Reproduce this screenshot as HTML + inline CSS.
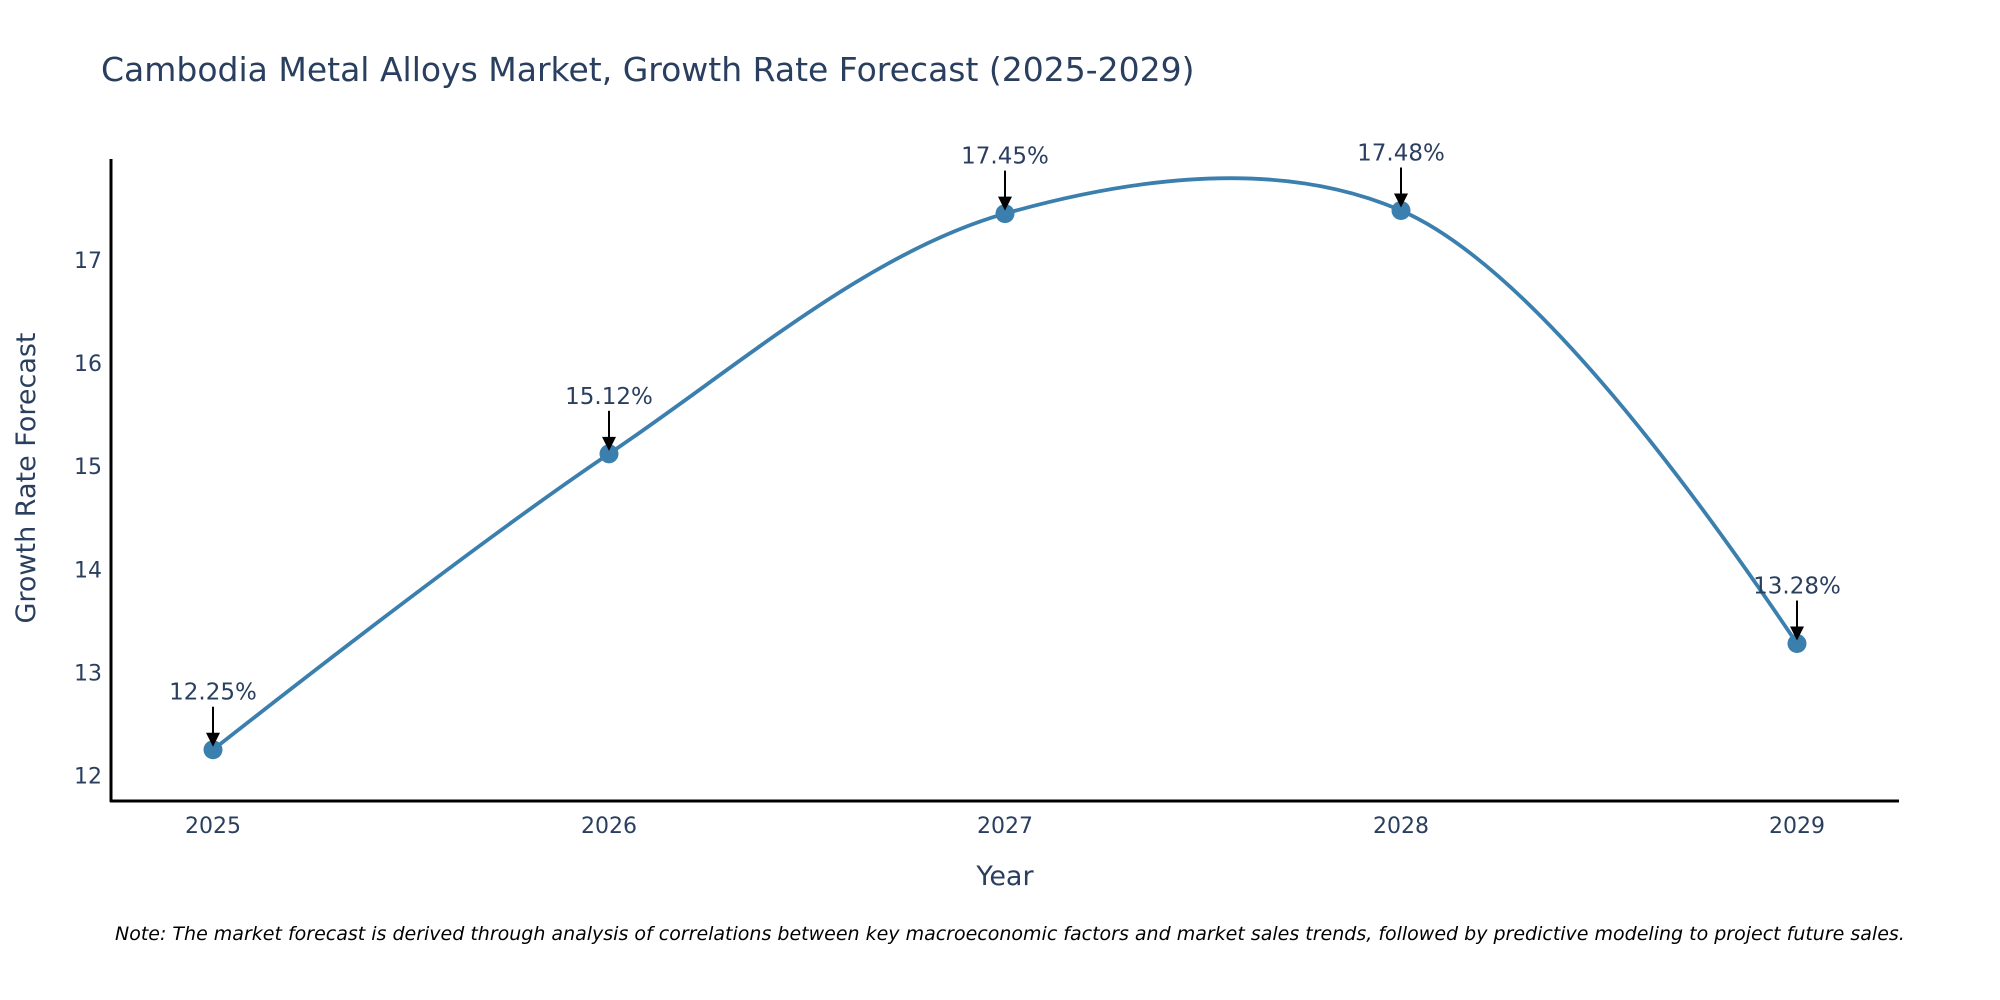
<!DOCTYPE html>
<html><head><meta charset="utf-8"><style>
html,body{margin:0;padding:0;background:#fff;width:2000px;height:1000px;overflow:hidden}
svg text{font-family:"DejaVu Sans","Liberation Sans",sans-serif}
</style></head><body>
<svg id="chart" width="2000" height="1000" viewBox="0 0 2000 1000" xmlns="http://www.w3.org/2000/svg">
<rect width="2000" height="1000" fill="#fff"/>
<text x="101" y="81" font-size="33" fill="#2a3f5f">Cambodia Metal Alloys Market, Growth Rate Forecast (2025-2029)</text>
<g id="yticks"></g><g id="xticks"></g>
<path id="line" fill="none" stroke="#3b7fae" stroke-width="3.8"/>
<g id="marks"></g>
<line x1="111" y1="159" x2="111" y2="802" stroke="#000" stroke-width="3"/>
<line x1="110" y1="801" x2="1899" y2="801" stroke="#000" stroke-width="3"/>
<text transform="translate(35,478) rotate(-90)" text-anchor="middle" font-size="27" fill="#2a3f5f">Growth Rate Forecast</text>
<text x="1005" y="885" text-anchor="middle" font-size="27" fill="#2a3f5f">Year</text>
<text x="115" y="940" font-size="19" font-style="italic" fill="#000">Note: The market forecast is derived through analysis of correlations between key macroeconomic factors and market sales trends, followed by predictive modeling to project future sales.</text>
</svg>
<script>
const years = [2025, 2026, 2027, 2028, 2029];
const rates = [12.25, 15.12, 17.45, 17.48, 13.28];
const yTickVals = [12, 13, 14, 15, 16, 17];
const labels = ["12.25%", "15.12%", "17.45%", "17.48%", "13.28%"];
const NS = "http://www.w3.org/2000/svg";
function xs(v){ return 213 + (v - 2025) * 396; }
function ys(v){ return 775.5 - (v - 12) * 103.1; }
function mk(tag, attrs, parent){ const e = document.createElementNS(NS, tag); for (const k in attrs) e.setAttribute(k, attrs[k]); parent.appendChild(e); return e; }
const yt = document.getElementById('yticks');
yTickVals.forEach(v => {
  const t = mk('text', {x: 102, y: ys(v) + 8, 'text-anchor': 'end', 'font-size': 22, fill: '#2a3f5f'}, yt);
  
  
  t.textContent = v;
});
const xt = document.getElementById('xticks');
years.forEach(v => {
  const t = mk('text', {x: xs(v), y: 833, 'text-anchor': 'middle', 'font-size': 22, fill: '#2a3f5f'}, xt);
  
  
  t.textContent = v;
});
const pts = years.map((y, i) => [xs(y), ys(rates[i])]);
function tangent(p0, p1, p2, s){
  const d1x = p0[0]-p1[0], d1y = p0[1]-p1[1], d2x = p2[0]-p1[0], d2y = p2[1]-p1[1];
  const d1a = Math.pow(d1x*d1x + d1y*d1y, 0.25), d2a = Math.pow(d2x*d2x + d2y*d2y, 0.25);
  const nx = (d2a*d2a*d1x - d1a*d1a*d2x)*s, ny = (d2a*d2a*d1y - d1a*d1a*d2y)*s;
  const den1 = 3*d2a*(d1a+d2a), den2 = 3*d1a*(d1a+d2a);
  return [[p1[0]+nx/den1, p1[1]+ny/den1], [p1[0]-nx/den2, p1[1]-ny/den2]];
}
const tg = [];
for (let i = 1; i < pts.length - 1; i++) tg.push(tangent(pts[i-1], pts[i], pts[i+1], 1));
let d = 'M' + pts[0] + 'Q' + tg[0][0] + ' ' + pts[1];
for (let i = 2; i < pts.length - 1; i++) d += 'C' + tg[i-2][1] + ' ' + tg[i-1][0] + ' ' + pts[i];
d += 'Q' + tg[tg.length-1][1] + ' ' + pts[pts.length-1];
document.getElementById('line').setAttribute('d', d);
const mg = document.getElementById('marks');
pts.forEach((p, i) => {
  const c = mk('circle', {cx: p[0], cy: p[1], r: 9.5, fill: '#3b7fae'}, mg);
  
  
  const l = mk('line', {x1: p[0], y1: p[1] - 43, x2: p[0], y2: p[1] - 14, stroke: '#000', 'stroke-width': 2}, mg);
  
  
  const h = mk('path', {d: `M${p[0]-7},${p[1]-17} L${p[0]+7},${p[1]-17} L${p[0]},${p[1]-3} Z`, fill: '#000'}, mg);
  
  
  const t = mk('text', {x: p[0], y: p[1] - 50, 'text-anchor': 'middle', 'font-size': 23, fill: '#2a3f5f'}, mg);
  
  
  t.textContent = labels[i];
});
</script>
</body></html>
